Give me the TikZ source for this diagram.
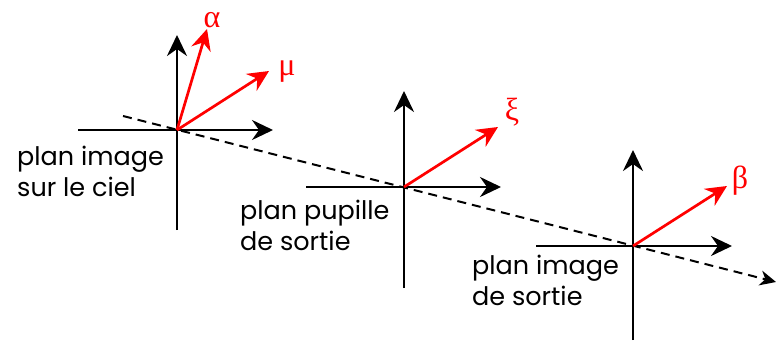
\documentclass[tikz,border=0pt]{standalone}
\usepackage{fontspec}
\setmainfont{Poppins}
\newfontfamily\grk{Liberation Serif}
\usetikzlibrary{arrows.meta}
\begin{document}
\begin{tikzpicture}[x=1pt,y=-1pt,
  axl/.style={line width=2.7pt},
  ax/.style={line width=2.7pt,-{Stealth[length=21pt,width=20pt,inset=7pt]}},
  vec/.style={red,line width=2.7pt,-{Stealth[length=21pt,width=20pt,inset=7pt]}},
  glab/.style={red,font=\grk\fontsize{32}{34}\selectfont,inner sep=0pt},
  lab/.style={font=\fontsize{25.5}{31}\selectfont,align=left,anchor=north west,inner sep=0pt}]
\useasboundingbox (0,0) rectangle (776,340);
% origins
\coordinate (o1) at (177,130);
\coordinate (o2) at (404,187);
\coordinate (o3) at (633,246);
% dashed optical axis
\coordinate (ds) at (123,116);
\coordinate (de) at (776,282);
\draw[line width=2pt,dash pattern=on 9pt off 6pt,-{Stealth[length=16pt,width=15pt,inset=5pt]}] (ds) -- (de);
% plane 1
\coordinate (v1b) at (177,230); \coordinate (v1t) at (177,35);
\coordinate (h1l) at (78,130); \coordinate (h1r) at (273,130);
\draw[axl] (v1b) -- (o1);
\draw[ax] (o1) -- (v1t);
\draw[axl] (h1l) -- (o1);
\draw[ax] (o1) -- (h1r);
\coordinate (a1) at (207,29); \coordinate (m1) at (269,71);
\draw[vec] (o1) -- (a1);
\draw[vec] (o1) -- (m1);
\node[glab] (la) at (212,20) {α};
\node[glab] (lm) at (287,72) {μ};
% plane 2
\coordinate (v2b) at (404,288); \coordinate (v2t) at (404,91);
\coordinate (h2l) at (306,187); \coordinate (h2r) at (501,187);
\draw[axl] (v2b) -- (o2);
\draw[ax] (o2) -- (v2t);
\draw[axl] (h2l) -- (o2);
\draw[ax] (o2) -- (h2r);
\coordinate (x2) at (498,127);
\draw[vec] (o2) -- (x2);
\node[glab] (lx) at (512,112) {ξ};
% plane 3
\coordinate (v3b) at (633,340); \coordinate (v3t) at (633,150);
\coordinate (h3l) at (536,246); \coordinate (h3r) at (732,246);
\draw[axl] (v3b) -- (o3);
\draw[ax] (o3) -- (v3t);
\draw[axl] (h3l) -- (o3);
\draw[ax] (o3) -- (h3r);
\coordinate (b3) at (727,186);
\draw[vec] (o3) -- (b3);
\node[glab] (lb) at (740,181) {β};
% labels
\node[lab] (t1) at (17,146) {plan image\\sur le ciel};
\node[lab] (t2) at (240,200) {plan pupille\\de sortie};
\node[lab] (t3) at (472,255) {plan image\\de sortie};
\end{tikzpicture}
\end{document}
